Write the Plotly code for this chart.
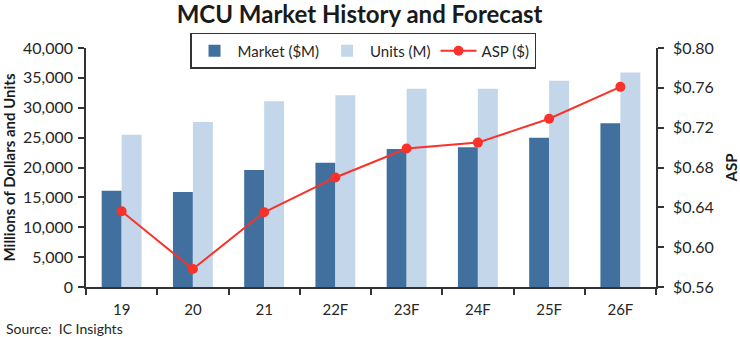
import plotly.graph_objects as go

categories = ["19", "20", "21", "22F", "23F", "24F", "25F", "26F"]
market = [16100, 15900, 19600, 20800, 23100, 23400, 25000, 27400]
units = [25500, 27600, 31100, 32100, 33200, 33200, 34500, 35900]
asp = [0.636, 0.578, 0.635, 0.670, 0.699, 0.705, 0.729, 0.761]

FONT = "Lato"
TXT = "#262626"

fig = go.Figure()
fig.add_trace(go.Bar(x=categories, y=market, name="Market ($M)",
                     marker=dict(color="#41709F", line=dict(width=0))))
fig.add_trace(go.Bar(x=categories, y=units, name="Units (M)",
                     marker=dict(color="#C4D6EA", line=dict(width=0))))
fig.add_trace(go.Scatter(x=categories, y=asp, name="ASP ($)", yaxis="y2",
                         mode="lines+markers",
                         line=dict(color="#F8322A", width=2),
                         marker=dict(color="#F8322A", size=10)))

fig.update_layout(
    width=740, height=337,
    margin=dict(l=86, r=84, t=48, b=50),
    paper_bgcolor="white", plot_bgcolor="white",
    font=dict(family=FONT, color=TXT, size=15),
    barmode="group", bargap=0.44, bargroupgap=0,
    showlegend=True,
    title=dict(text="<b>MCU Market History and Forecast</b>",
               x=0.48, xref="paper", xanchor="center",
               y=1 - 15/337, yref="container", yanchor="middle",
               font=dict(family=FONT, size=24, color="#1a1a1a")),
    legend=dict(orientation="h", x=0.486, xanchor="center", y=1.063, yanchor="top",
                bordercolor="#333", borderwidth=1.5, bgcolor="white",
                font=dict(size=15, color=TXT), itemwidth=36,
                tracegroupgap=0, traceorder="normal"),
    xaxis=dict(type="category", showline=True, linecolor="#333", linewidth=1.5,
               ticks="outside", tickson="boundaries", ticklen=6, tickcolor="#333",
               tickwidth=1.5, showgrid=False, tickfont=dict(size=15), mirror=False,
               ticklabelstandoff=8, automargin=False),
    yaxis=dict(range=[0, 40000], dtick=5000, tickformat=",", showline=True,
               linecolor="#333", linewidth=1.5, ticks="outside", ticklen=6,
               tickcolor="#333", tickwidth=1.5, showgrid=False, zeroline=False,
               tickfont=dict(size=16), ticklabelstandoff=2, automargin=False,
               title=dict(text="<b>Millions of Dollars and Units</b>",
                          font=dict(size=15, color="#1a1a1a"), standoff=4)),
    yaxis2=dict(range=[0.56, 0.80], dtick=0.04, tickformat="$.2f", overlaying="y",
                side="right", showline=True, linecolor="#333", linewidth=1.5,
                ticks="outside", ticklen=6, tickcolor="#333", tickwidth=1.5,
                showgrid=False, zeroline=False, tickfont=dict(size=16),
                ticklabelstandoff=6, automargin=False,
                title=dict(text="<b>ASP</b>", font=dict(size=15, color="#1a1a1a"),
                           standoff=16)),
    annotations=[dict(text="Source:  IC Insights", xref="paper", yref="paper",
                      x=-0.143, y=-0.175, xanchor="left", yanchor="middle",
                      showarrow=False, font=dict(size=14, color=TXT))],
)

fig.write_html("out.html")
